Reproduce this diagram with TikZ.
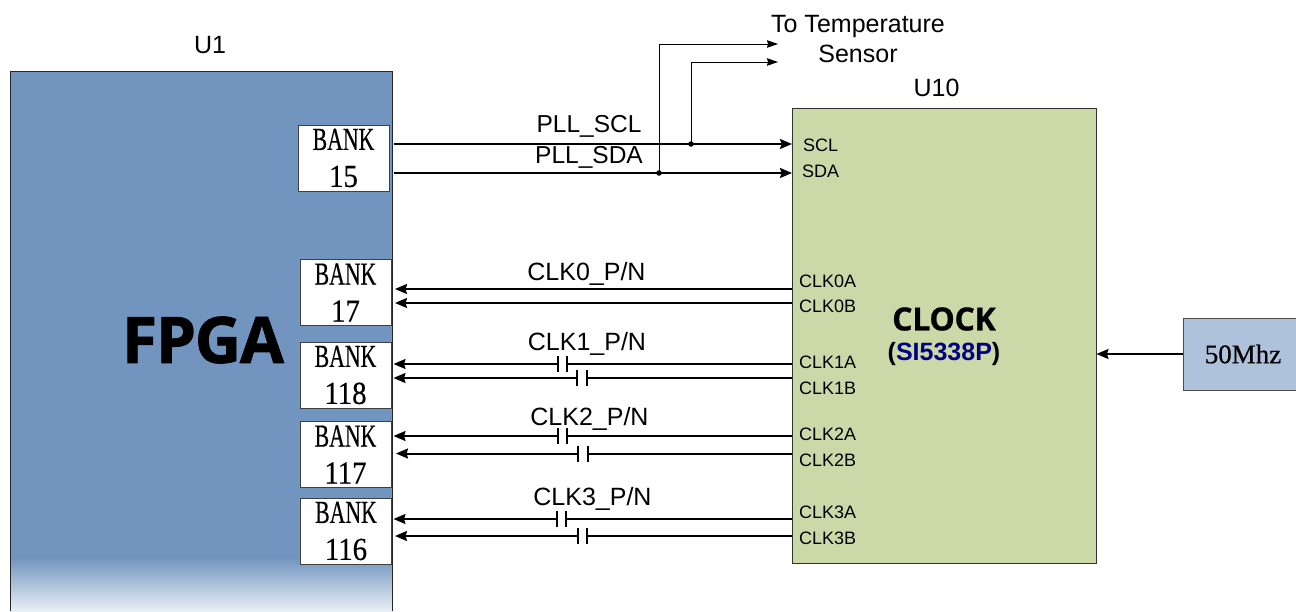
\documentclass[tikz,border=0pt]{standalone}
\usepackage{graphicx}
\usepackage{fontspec}
\setmainfont{Liberation Sans}
\newfontfamily\yaheilike[BoldFeatures={FakeBold=1.2,LetterSpace=-2}]{Open Sans}
\newfontfamily\clocklike[BoldFeatures={FakeBold=0.6,LetterSpace=-1}]{Open Sans}
\newfontfamily\banklike[FakeBold=0.5]{Liberation Serif}
\usetikzlibrary{arrows.meta}
\definecolor{fpgablue}{HTML}{7295C0}
\definecolor{fpgafade}{HTML}{E9EFF5}
\definecolor{clockgreen}{HTML}{CBD9A8}
\definecolor{oscblue}{HTML}{AEC2DC}
\definecolor{partnavy}{HTML}{000080}
\newcommand{\banktext}[1]{\scalebox{0.68}[1]{BANK}\\\scalebox{0.9}[1]{#1}}
\newcommand{\capwire}[5]{%
  \draw[busline] (#1) -- (#4,#5);
  \draw[busline,-{Stealth[length=12pt,width=10pt,inset=1.5pt]}] (#3,#5) -- (#2);
  \draw[plate] (#3,#5-8) -- (#3,#5+8);
  \draw[plate] (#4,#5-8) -- (#4,#5+8);
}
\tikzset{
  bankbox/.style={draw=black!75,line width=0.9pt,fill=white,minimum width=91pt,minimum height=66pt,inner sep=0pt,align=center,font=\banklike\fontsize{32}{37}\selectfont},
  busline/.style={line width=2pt,draw=black},
  busarrow/.style={busline,-{Stealth[length=12pt,width=10pt,inset=1.5pt]}},
  thinarrow/.style={line width=1pt,draw=black,-{Stealth[length=11pt,width=7.5pt,inset=1pt]}},
  plate/.style={line width=2pt,draw=black},
  sig/.style={font=\fontsize{25}{29}\selectfont,inner sep=0pt,anchor=base},
  pinlabel/.style={font=\fontsize{18}{21}\selectfont,inner sep=0pt,anchor=west},
  junction/.style={circle,fill=black,inner sep=0pt,minimum size=5.5pt}
}
\begin{document}
\begin{tikzpicture}[x=1pt,y=-1pt]
\useasboundingbox (0,0) rectangle (1296,611);
% FPGA body
\fill[fpgablue] (10,71) rectangle (392.5,558);
\shade[top color=fpgablue,bottom color=fpgafade] (10,558) rectangle (392.5,611);
\draw[line width=1pt,black!85] (10,611) -- (10,71) -- (392.5,71) -- (392.5,611);
\node[sig] (u1label) at (210,53) {U1};
\node[inner sep=0pt] (fpga) at (203,340) [font=\yaheilike\bfseries\fontsize{64}{74}\selectfont] {FPGA};
% banks
\node[bankbox] (b15) at (343.5,158) {\banktext{15}};
\node[bankbox] (b17) at (345.5,292.5) {\banktext{17}};
\node[bankbox] (b118) at (345.5,375) {\banktext{118}};
\node[bankbox] (b117) at (345.5,454.5) {\banktext{117}};
\node[bankbox] (b116) at (346,531) {\banktext{116}};
% clock
\node[draw=black!80,line width=0.9pt,fill=clockgreen,minimum width=304pt,minimum height=455pt,inner sep=0pt] (u10) at (944,335.5) {};
\node[sig] (u10label) at (936.5,96) {U10};
\node[inner sep=0pt] (clock) at (944,319) [font=\clocklike\bfseries\fontsize{32}{38}\selectfont] {CLOCK};
\node[inner sep=0pt] (part) at (944,354) [font=\bfseries\fontsize{25}{29}\selectfont] {(\textcolor{partnavy}{SI5338P})};
\node[draw=black!70,line width=0.9pt,fill=oscblue,minimum width=114pt,minimum height=72pt,inner sep=0pt] (osc) at (1240,354) {};
\node[inner sep=0pt] (osclabel) at (1243,354) {\banklike\fontsize{27}{32}\selectfont 50Mhz};
% named ends
\coordinate (sclA) at (394,144);
\coordinate (sclB) at (792,144);
\coordinate (sdaA) at (394,173);
\coordinate (sdaB) at (792,173);
\coordinate (t1) at (778,44);
\coordinate (t2) at (778,62);
\coordinate (c0aL) at (395,289);
\coordinate (c0aR) at (792,289);
\coordinate (c0bL) at (395,303);
\coordinate (c0bR) at (792,303);
\coordinate (c1aL) at (393.5,364);
\coordinate (c1aR) at (792,364);
\coordinate (c1bL) at (393.5,378);
\coordinate (c1bR) at (792,378);
\coordinate (c2aL) at (393.5,436);
\coordinate (c2aR) at (792,436);
\coordinate (c2bL) at (396,453.5);
\coordinate (c2bR) at (792,453.5);
\coordinate (c3aL) at (393.5,519);
\coordinate (c3aR) at (792,519);
\coordinate (c3bL) at (395,536);
\coordinate (c3bR) at (792,536);
\coordinate (oscW) at (osc.west);
\coordinate (u10E) at (u10.east |- osc.west);
% I2C
\draw[busarrow] (sclA) -- (sclB);
\draw[busarrow] (sdaA) -- (sdaB);
\node[junction] (j1) at (691,144) {};
\node[junction] (j2) at (659,173) {};
\draw[thinarrow] (j1.center) |- (t2);
\draw[thinarrow] (j2.center) |- (t1);
% clocks
\draw[busarrow] (c0aR) -- (c0aL);
\draw[busarrow] (c0bR) -- (c0bL);
\capwire{c1aR}{c1aL}{557.5}{567}{364}
\capwire{c1bR}{c1bL}{577}{587}{378}
\capwire{c2aR}{c2aL}{557.5}{567}{436}
\capwire{c2bR}{c2bL}{578}{587.5}{453.5}
\capwire{c3aR}{c3aL}{556.5}{565.5}{519}
\capwire{c3bR}{c3bL}{577.5}{587}{536}
\draw[busarrow] (oscW) -- (u10E);
% labels
\node[sig] (ts1) at (858,32) {To Temperature};
\node[sig] (ts2) at (858,62) {Sensor};
\node[sig,font=\fontsize{24.5}{29}\selectfont] (l1) at (589,132.5) {PLL\_SCL};
\node[sig,font=\fontsize{24.5}{29}\selectfont] (l2) at (589,163.5) {PLL\_SDA};
\node[sig] (l3) at (586.5,280) {CLK0\_P/N};
\node[sig] (l4) at (587,350) {CLK1\_P/N};
\node[sig] (l5) at (589.5,425) {CLK2\_P/N};
\node[sig] (l6) at (592.5,505.5) {CLK3\_P/N};
\node[pinlabel] (p1) at (803,145) {SCL};
\node[pinlabel] (p2) at (802,171) {SDA};
\node[pinlabel] (p3) at (799,281) {CLK0A};
\node[pinlabel] (p4) at (799,306) {CLK0B};
\node[pinlabel] (p5) at (799,362) {CLK1A};
\node[pinlabel] (p6) at (799,388) {CLK1B};
\node[pinlabel] (p7) at (799,434) {CLK2A};
\node[pinlabel] (p8) at (799,460) {CLK2B};
\node[pinlabel] (p9) at (799,512) {CLK3A};
\node[pinlabel] (p10) at (799,538) {CLK3B};
\end{tikzpicture}
\end{document}
